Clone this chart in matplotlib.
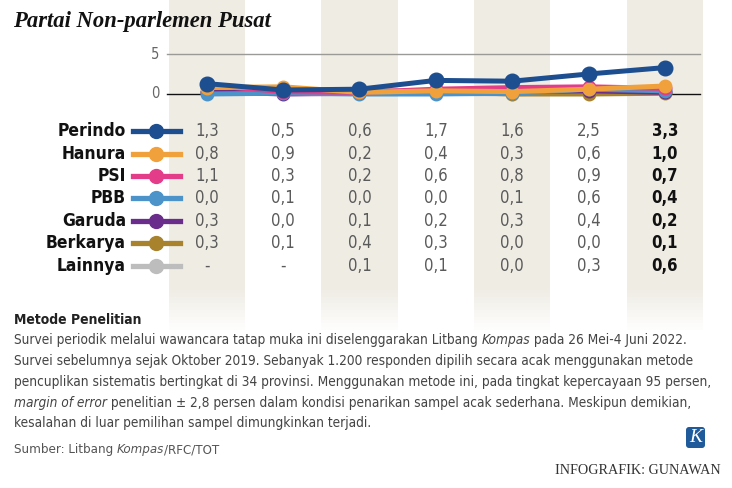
import matplotlib
matplotlib.use("Agg")
import matplotlib.pyplot as plt
import numpy as np
from matplotlib.transforms import blended_transform_factory
from matplotlib.patches import Rectangle, FancyBboxPatch
from matplotlib.lines import Line2D

# ---------------- data ----------------
parties = ["Perindo", "Hanura", "PSI", "PBB", "Garuda", "Berkarya", "Lainnya"]
colors = ["#1d4e8f", "#f0a13c", "#e33d8a", "#4b93c9", "#6b2d8c", "#a8822c", "#bdbdbd"]
perindo = [1.3, 0.5, 0.6, 1.7, 1.6, 2.5, 3.3]
hanura = [0.8, 0.9, 0.2, 0.4, 0.3, 0.6, 1.0]
psi = [1.1, 0.3, 0.2, 0.6, 0.8, 0.9, 0.7]
pbb = [0.0, 0.1, 0.0, 0.0, 0.1, 0.6, 0.4]
garuda = [0.3, 0.0, 0.1, 0.2, 0.3, 0.4, 0.2]
berkarya = [0.3, 0.1, 0.4, 0.3, 0.0, 0.0, 0.1]
lainnya = [None, None, 0.1, 0.1, 0.0, 0.3, 0.6]
series = [perindo, hanura, psi, pbb, garuda, berkarya, lainnya]
y_ticks = [0, 5]

SANS = dict(family="DejaVu Sans", fontstretch="condensed")

W, H = 732, 488
fig = plt.figure(figsize=(W / 100, H / 100), dpi=100)
fig.patch.set_facecolor("white")

# background axes in pixel coordinates
bg = fig.add_axes([0, 0, 1, 1])
bg.set_xlim(0, W)
bg.set_ylim(H, 0)
bg.axis("off")
bg.set_zorder(0)

# chart axes
x0px, x1px = 167, 700
ymin_px, ymax_px = 94, 54
ax = fig.add_axes([x0px / W, 1 - ymin_px / H, (x1px - x0px) / W, (ymin_px - ymax_px) / H])
ax.set_xlim(-0.52, 6.46)
ax.set_ylim(0, 5)
ax.axis("off")
ax.patch.set_alpha(0)
ax.set_zorder(2)

n = len(perindo)
xs = np.arange(n)

# stripes (in background, using chart x-scale)
tr_stripe = blended_transform_factory(ax.transData, fig.transFigure)
stripe_col = "#efece4"
for i in range(0, n, 2):
    bg.add_patch(Rectangle((i - 0.5, 1 - 290 / H), 1.0, 290 / H, transform=tr_stripe,
                           facecolor=stripe_col, edgecolor="none", zorder=0))
    steps = 12
    for k in range(steps):
        top = 290 + k * 40 / steps
        a = 1 - (k + 1) / (steps + 1)
        bg.add_patch(Rectangle((i - 0.5, 1 - (top + 40 / steps) / H), 1.0, (40 / steps) / H,
                               transform=tr_stripe, facecolor=stripe_col, alpha=a,
                               edgecolor="none", zorder=0))

# gridlines
ax.plot([-0.52, 6.46], [5, 5], color="#9a9a96", lw=1.0, clip_on=False, zorder=1)
ax.plot([-0.52, 6.46], [0, 0], color="#111111", lw=1.0, clip_on=False, zorder=1)
for t in y_ticks:
    ax.text(-0.62, t, str(t), ha="right", va="center", fontsize=10.5, color="#666666", **SANS)

# lines (draw Perindo last)
for idx in range(len(parties) - 1, -1, -1):
    vals = np.array([np.nan if v is None else v for v in series[idx]], dtype=float)
    big = idx == 0
    ax.plot(xs, vals, color=colors[idx], lw=3.6, marker="o",
            markersize=10.5 if big else 9, clip_on=False, zorder=10 - idx,
            solid_capstyle="round")

# legend + table
row_y = [131, 154, 176, 198, 221, 243, 266]
tr_tab = blended_transform_factory(ax.transData, bg.transData)
for r, name in enumerate(parties):
    y = row_y[r]
    bg.text(126, y, name, ha="right", va="center", fontsize=12.5, fontweight="bold",
            color="#111111", **SANS)
    bg.add_line(Line2D([133, 180], [y, y], color=colors[r], lw=3.8, zorder=3))
    bg.plot([156], [y], marker="o", markersize=10, color=colors[r], zorder=4)
    for c in range(n):
        v = series[r][c]
        txt = "-" if v is None else f"{v:.1f}".replace(".", ",")
        last = c == n - 1
        bg.text(c, y, txt, transform=tr_tab, ha="center", va="center",
                fontsize=12, fontweight="bold" if last else "normal",
                color="#111111" if last else "#5a5a5a", **SANS)

# title
bg.text(13, 22, "Partai Non-parlemen Pusat", ha="left", va="center", fontsize=16.3,
        fontweight="bold", fontstyle="italic", family="Liberation Serif", color="#111111")

# methodology text
bg.text(14, 320, "Metode Penelitian", ha="left", va="center", fontsize=10,
        fontweight="bold", color="#222222", **SANS)
para_col = "#444444"
fs = 9.8
lines = [
    [("Survei periodik melalui wawancara tatap muka ini diselenggarakan Litbang ", "normal"),
     ("Kompas", "italic"), (" pada 26 Mei-4 Juni 2022.", "normal")],
    [("Survei sebelumnya sejak Oktober 2019. Sebanyak 1.200 responden dipilih secara acak menggunakan metode", "normal")],
    [("pencuplikan sistematis bertingkat di 34 provinsi. Menggunakan metode ini, pada tingkat kepercayaan 95 persen,", "normal")],
    [("margin of error", "italic"), (" penelitian ± 2,8 persen dalam kondisi penarikan sampel acak sederhana. Meskipun demikian,", "normal")],
    [("kesalahan di luar pemilihan sampel dimungkinkan terjadi.", "normal")],
]
line_y = [340, 361, 382, 403, 423]
fig.canvas.draw()
renderer = fig.canvas.get_renderer()
inv = bg.transData.inverted()


def draw_runs(runs, x, y, size, color):
    for text, style in runs:
        t = bg.text(x, y, text, ha="left", va="center", fontsize=size, fontstyle=style,
                    color=color, **SANS)
        bb = t.get_window_extent(renderer=renderer)
        x = inv.transform((bb.x1, bb.y1))[0]
    return x


for runs, y in zip(lines, line_y):
    draw_runs(runs, 14, y, fs, para_col)

draw_runs([("Sumber: Litbang ", "normal"), ("Kompas", "italic"), ("/RFC/TOT", "normal")],
          14, 450, 9.5, "#555555")

# logo + credit
bg.add_patch(FancyBboxPatch((686, 427), 19, 21, boxstyle="round,pad=0,rounding_size=3",
                            facecolor="#1f5a9a", edgecolor="none", zorder=3))
bg.text(695.5, 438, "K", ha="center", va="center", fontsize=14, fontstyle="italic",
        family="Liberation Serif", color="white", zorder=4)
bg.text(721, 471, "INFOGRAFIK: GUNAWAN", ha="right", va="center", fontsize=10.2,
        family="Liberation Serif", color="#333333")

fig.savefig("out.png", dpi=100, facecolor="white")
